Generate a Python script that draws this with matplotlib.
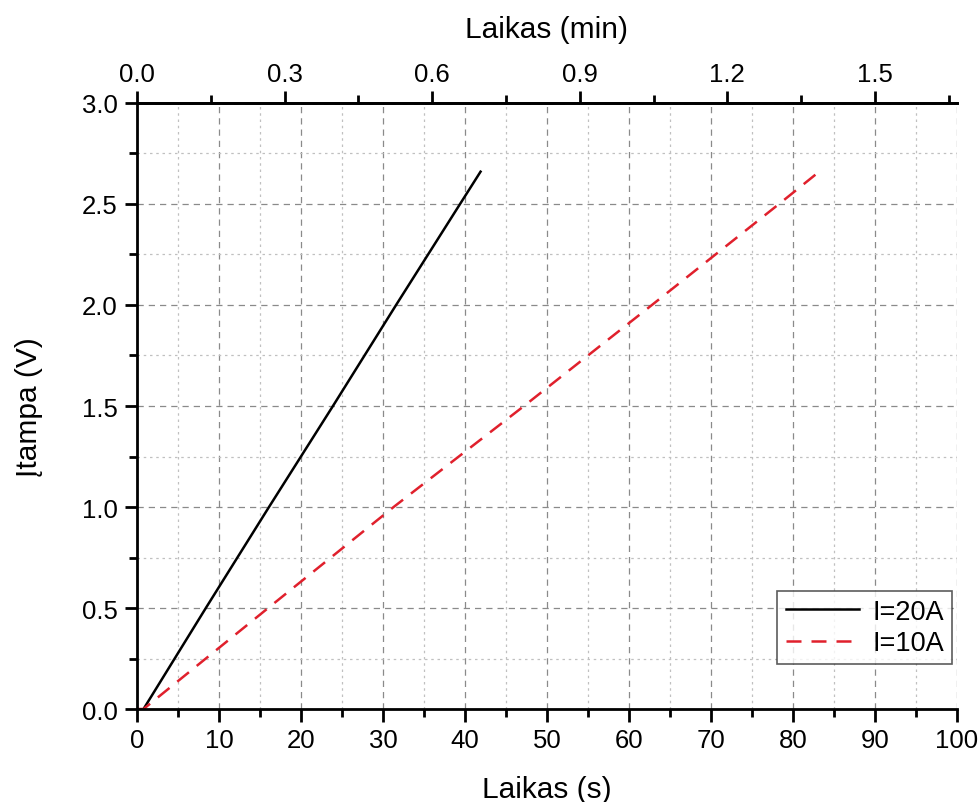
import matplotlib
matplotlib.use("Agg")
import matplotlib.pyplot as plt
from matplotlib.ticker import MultipleLocator, FixedLocator, FormatStrFormatter

plt.rcParams['font.family'] = ['Liberation Sans', 'DejaVu Sans']

# Data
t_20A = [0.8, 8.4, 16.1, 23.9, 31.6, 39.4, 41.9]
v_20A = [0.0, 0.5, 1.0, 1.5, 2.0, 2.5, 2.66]
t_10A = [0.0, 0.8, 16.0, 31.3, 47.2, 62.8, 78.3, 83.5]
v_10A = [0.0, 0.0, 0.5, 1.0, 1.5, 2.0, 2.5, 2.67]
labels = ["I=20A", "I=10A"]
top_ticks = [0.0, 0.3, 0.6, 0.9, 1.2, 1.5]
top_minor = [0.15, 0.45, 0.75, 1.05, 1.35, 1.65]

fig = plt.figure(figsize=(9.79, 8.03), dpi=100)
ax = fig.add_axes([0.1399, 0.1158, 0.8376, 0.7547])

ax.plot(t_20A, v_20A, color='black', lw=1.8, label=labels[0])
ax.plot(t_10A, v_10A, color='#e0202c', lw=1.8, ls=(0, (6, 4)), label=labels[1])

ax.set_xlim(0, 100)
ax.set_ylim(0, 3.0)
ax.xaxis.set_major_locator(MultipleLocator(10))
ax.xaxis.set_minor_locator(MultipleLocator(5))
ax.yaxis.set_major_locator(MultipleLocator(0.5))
ax.yaxis.set_minor_locator(MultipleLocator(0.25))
ax.yaxis.set_major_formatter(FormatStrFormatter('%.1f'))

ax.grid(which='major', color='#8a8a8a', ls=(0, (5, 4)), lw=0.9)
ax.grid(which='minor', color='#c0c0c0', ls=(0, (2, 3)), lw=0.9)
ax.set_axisbelow(True)

for s in ['left', 'bottom', 'top']:
    ax.spines[s].set_linewidth(2)
ax.spines['right'].set_visible(False)

ax.tick_params(which='major', direction='out', length=9, width=2, labelsize=18.5, pad=5)
ax.tick_params(which='minor', direction='out', length=5.5, width=2)
ax.tick_params(axis='x', top=False, which='both')

ax.set_xlabel('Laikas (s)', fontsize=21.5, labelpad=16)
ax.set_ylabel('Įtampa (V)', fontsize=21.5, labelpad=28)

top = ax.secondary_xaxis('top', functions=(lambda s: s / 60.0, lambda m: m * 60.0))
top.xaxis.set_major_locator(FixedLocator(top_ticks))
top.xaxis.set_minor_locator(FixedLocator(top_minor))
top.xaxis.set_major_formatter(FormatStrFormatter('%.1f'))
top.tick_params(which='major', direction='out', length=9, width=2, labelsize=18.5, pad=3)
top.tick_params(which='minor', direction='out', length=5.5, width=2)
top.spines['top'].set_linewidth(2)
top.set_xlabel('Laikas (min)', fontsize=21.5, labelpad=18)

leg = ax.legend(loc='lower right', bbox_to_anchor=(0.994, 0.074), fontsize=19.5,
                frameon=True, fancybox=False, edgecolor='#333333', handlelength=2.7,
                borderpad=0.3, labelspacing=0.2, handletextpad=0.5, borderaxespad=0.0)
leg.get_frame().set_linewidth(1.2)

fig.savefig('out.png', dpi=100)
